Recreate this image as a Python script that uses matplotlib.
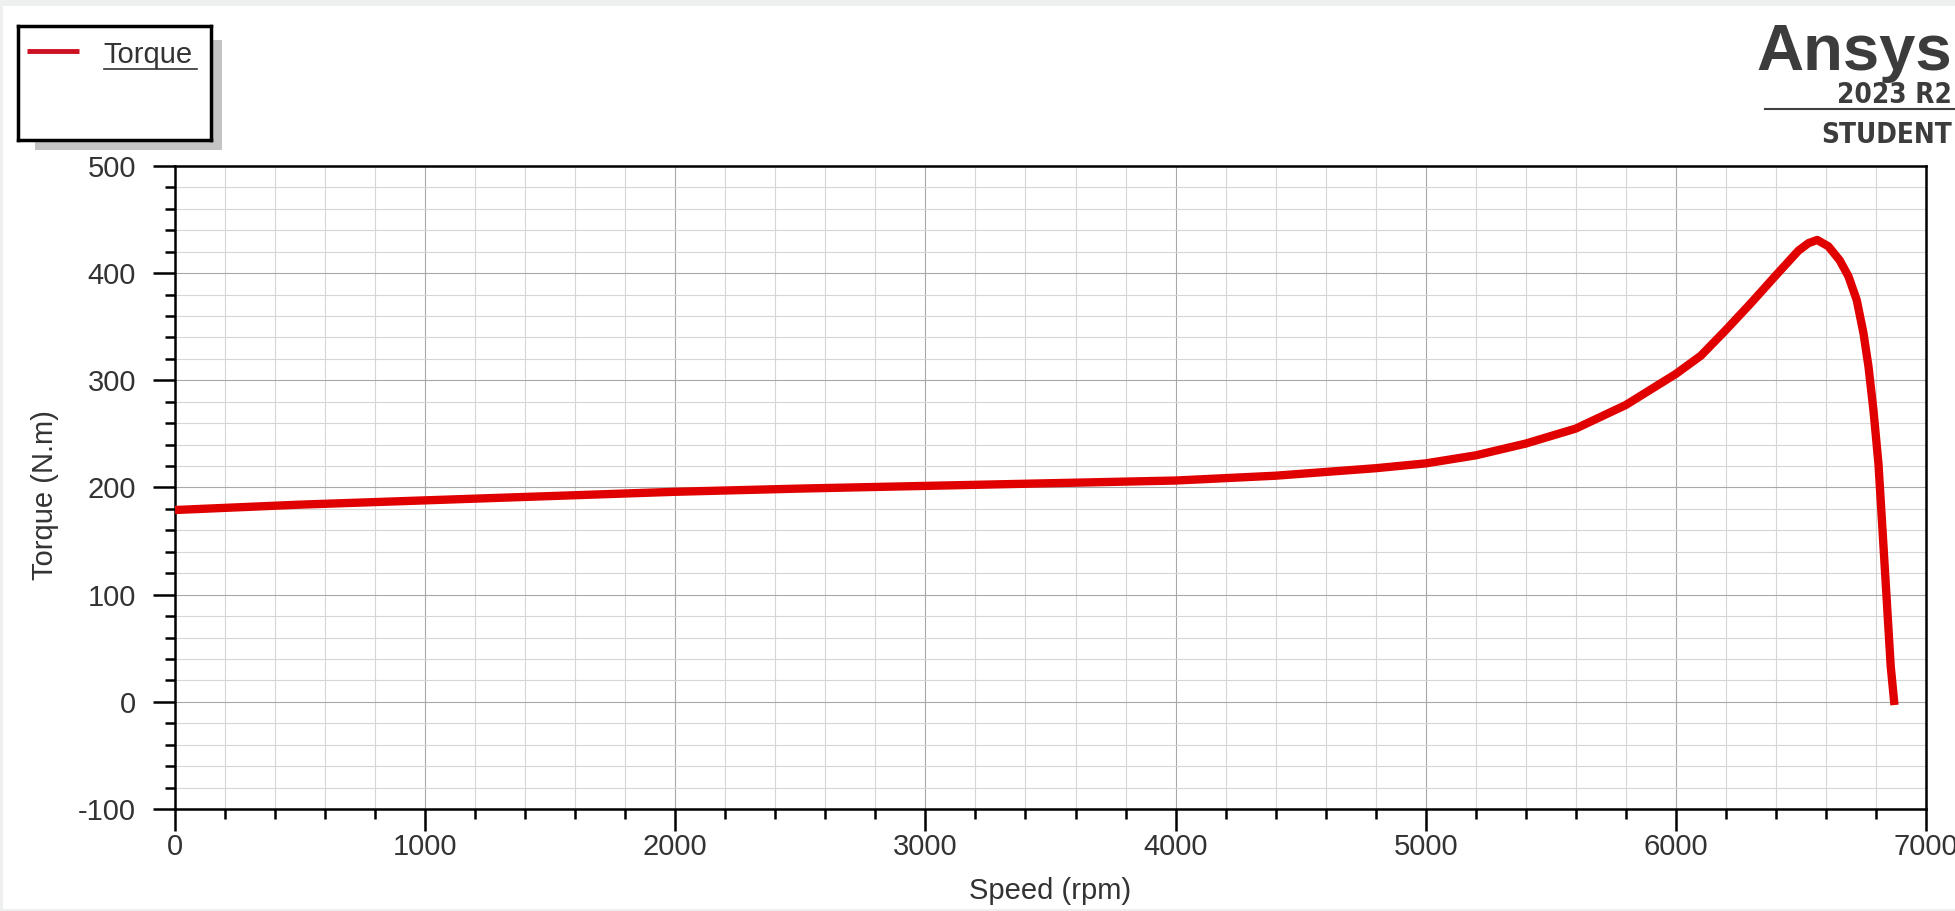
import numpy as np
from matplotlib import pyplot as plt
from matplotlib.lines import Line2D
from matplotlib.patches import Rectangle
from matplotlib.ticker import MultipleLocator

# torque / speed curve
speed = [0, 500, 1000, 1500, 2000, 2500, 3000, 3500, 4000, 4400, 4800, 5000,
         5200, 5400, 5600, 5800, 6000, 6100, 6200, 6300, 6400, 6490, 6530,
         6565, 6610, 6655, 6690, 6723, 6750, 6770, 6790, 6810, 6827, 6843,
         6859, 6874]
torque = [179, 184, 188, 192, 196, 199, 201.5, 204, 206.5, 211, 218, 222.5,
          230, 241, 255, 277, 306, 323, 347, 372, 398, 421, 428,
          431, 425, 412, 397, 375, 344, 313, 272, 222, 157, 95,
          33, -3]

series_name = "Torque"
x_label = "Speed (rpm)"
y_label = "Torque (N.m)"
x_lim = (0, 7000)
y_lim = (-100, 500)

W, H = 1955, 911
plt.rcParams['font.family'] = ['Liberation Sans', 'DejaVu Sans']
plt.rcParams['axes.unicode_minus'] = False
txt = '#333333'
red = '#e00000'

fig = plt.figure(figsize=(W / 100, H / 100), dpi=100, facecolor='#eef0f0')
# white canvas inside a thin grey frame
fig.add_artist(Rectangle((3 / W, 2 / H), 1 - 3 / W, 1 - 8 / H, transform=fig.transFigure,
                         facecolor='white', edgecolor='none', zorder=-5))

ax = fig.add_axes([175 / W, 1 - 809 / H, (1926 - 175) / W, (809 - 166) / H])
ax.set_facecolor('white')
ax.plot(speed, torque, color=red, lw=6, solid_capstyle='butt',
        solid_joinstyle='round', zorder=3)

ax.set_xlim(*x_lim)
ax.set_ylim(*y_lim)
ax.xaxis.set_major_locator(MultipleLocator(1000))
ax.xaxis.set_minor_locator(MultipleLocator(200))
ax.yaxis.set_major_locator(MultipleLocator(100))
ax.yaxis.set_minor_locator(MultipleLocator(20))

ax.grid(which='major', color='#a8a8a8', lw=0.8, zorder=0)
ax.grid(which='minor', color='#d6d6d6', lw=0.8, zorder=0)
ax.set_axisbelow(True)

for s in ax.spines.values():
    s.set_linewidth(1.8)
    s.set_color('black')

ax.tick_params(which='major', length=16, width=1.8, color='black',
               labelsize=21, labelcolor=txt, direction='out')
ax.tick_params(which='minor', length=7.5, width=1.8, color='black', direction='out')
ax.tick_params(axis='x', which='major', pad=1)
ax.tick_params(axis='y', which='major', pad=12)

ax.set_xlabel(x_label, fontsize=21, color=txt)
ax.xaxis.set_label_coords(0.5, -0.106)
ax.set_ylabel(y_label, fontsize=21, color=txt)
ax.yaxis.set_label_coords(-0.066, 0.488)

# legend box with drop shadow
fig.add_artist(Rectangle((35 / W, 1 - 150 / H), 187 / W, 110 / H, transform=fig.transFigure,
                         facecolor='#c4c4c4', edgecolor='none', zorder=4))
lax = fig.add_axes([18 / W, 1 - 140 / H, 193 / W, 114 / H], zorder=5)
lax.set_xlim(18, 211)
lax.set_ylim(140, 26)
lax.set_xticks([])
lax.set_yticks([])
lax.set_facecolor('white')
for s in lax.spines.values():
    s.set_linewidth(2.5)
    s.set_color('black')
lax.plot([27, 79], [51, 51], color='#cc1122', lw=3.5, solid_capstyle='butt')
lax.text(103, 63, series_name, fontsize=21, color=txt, va='baseline', ha='left')
lax.plot([104, 197], [69, 69], color='#333333', lw=1.2)

# Ansys watermark
logo = '#3c3c3c'
fig.text(1952 / W, 1 - 70 / H, "Ansys", fontsize=47, fontweight='bold',
         color=logo, ha='right', va='baseline')
fig.text(1952 / W, 1 - 103 / H, "2023 R2", fontsize=20, fontweight='bold',
         fontstretch='condensed', family='DejaVu Sans', color=logo,
         ha='right', va='baseline')
fig.add_artist(Line2D([1765 / W, 1], [1 - 109 / H, 1 - 109 / H], transform=fig.transFigure,
                      color='#404040', lw=1.5))
fig.text(1952 / W, 1 - 143 / H, "STUDENT", fontsize=20, fontweight='bold',
         fontstretch='condensed', family='DejaVu Sans', color=logo,
         ha='right', va='baseline')

fig.savefig('out.png', dpi=100)
